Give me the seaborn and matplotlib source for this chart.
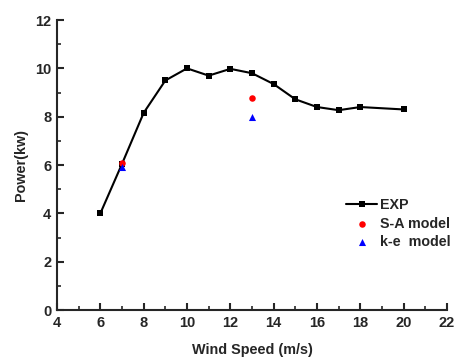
import matplotlib
matplotlib.use("Agg")
import matplotlib.pyplot as plt
import seaborn as sns
import pandas as pd
from matplotlib.ticker import MultipleLocator

wind_exp = [6, 7, 8, 9, 10, 11, 12, 13, 14, 15, 16, 17, 18, 20]
power_exp = [4.0, 6.05, 8.16, 9.5, 10.0, 9.7, 9.98, 9.8, 9.35, 8.72, 8.4, 8.27, 8.4, 8.3]
wind_sa = [7, 13]
power_sa = [6.09, 8.78]
wind_ke = [7, 13]
power_ke = [5.93, 8.0]

sns.set_style("ticks")
plt.rcParams['font.family'] = ['Liberation Sans', 'DejaVu Sans']
plt.rcParams['font.weight'] = 'bold'

fig = plt.figure(figsize=(4.54, 3.58), dpi=100)
ax = fig.add_axes([0.1256, 0.134, 0.859, 0.81])

df_exp = pd.DataFrame({"x": wind_exp, "y": power_exp})
sns.lineplot(data=df_exp, x="x", y="y", ax=ax, color="black", marker="s",
             markersize=4.6, linewidth=1.5, markeredgewidth=0, label="EXP")
sns.scatterplot(x=wind_sa, y=power_sa, ax=ax, color="red", marker="o", s=22,
                linewidth=0, label="S-A model", zorder=5)
sns.scatterplot(x=wind_ke, y=power_ke, ax=ax, color="blue", marker="^", s=26,
                linewidth=0, label="k-e  model", zorder=5)

ax.set_xlim(4, 22)
ax.set_ylim(0, 12)
ax.xaxis.set_major_locator(MultipleLocator(2))
ax.xaxis.set_minor_locator(MultipleLocator(1))
ax.yaxis.set_major_locator(MultipleLocator(2))
ax.yaxis.set_minor_locator(MultipleLocator(1))
ax.tick_params(which="major", direction="in", length=5, width=1.5, labelsize=10.5, pad=4)
ax.tick_params(which="minor", direction="in", length=3, width=1.2)
for lab in ax.get_xticklabels() + ax.get_yticklabels():
    lab.set_fontweight("bold")
for s in ["top", "right"]:
    ax.spines[s].set_visible(False)
for s in ["left", "bottom"]:
    ax.spines[s].set_linewidth(1.5)

ax.set_xlabel("Wind Speed (m/s)", fontsize=10.4, fontweight="bold", labelpad=10)
ax.set_ylabel("Power(kw)", fontsize=10.4, fontweight="bold", labelpad=5)

leg = ax.legend(loc="upper left", bbox_to_anchor=(0.726, 0.406), frameon=False,
                fontsize=10.3, handlelength=2.2, handletextpad=0.2,
                labelspacing=0.32, borderaxespad=0)
for t in leg.get_texts():
    t.set_fontweight("bold")

fig.savefig("out.png", dpi=100)
